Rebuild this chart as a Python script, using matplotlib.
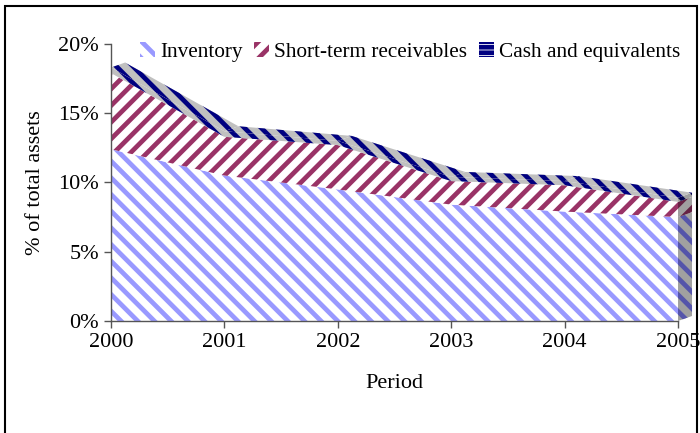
import numpy as np
import matplotlib.pyplot as plt
from matplotlib.patches import Patch, Rectangle, Polygon

plt.rcParams['font.family'] = ['Liberation Serif', 'DejaVu Serif']
plt.rcParams['hatch.linewidth'] = 3.4

# Data (% of total assets)
years = [2000, 2001, 2002, 2003, 2004, 2005]
inventory = [12.4, 10.5, 9.5, 8.4, 7.9, 7.5]
receivables = [5.5, 2.8, 3.2, 1.7, 1.9, 1.1]
cash = [0.4, 0.4, 0.3, 0.3, 0.3, 0.3]
labels = ['Inventory', 'Short-term receivables', 'Cash and equivalents']

colors = ['#9999FF', '#993366', '#000080']
side_colors = ['#5555AA', '#662244', '#000050']
faces = ['white', 'white', '#C0C0C0']
hatches = ['\\\\', '//', '\\\\']

fig = plt.figure(figsize=(7, 4.33), dpi=100)
ax = fig.add_axes([0.1586, 0.2587, 0.81, 0.6397])
ax.set_xlim(2000, 2005)
ax.set_ylim(0, 20)

x = np.array(years, dtype=float)
tops = np.cumsum([inventory, receivables, cash], axis=0)
bottoms = np.vstack([np.zeros(len(x)), tops[:-1]])

# 3D depth offset (pixels -> data units)
p0 = ax.transData.transform((2000, 0))
p1 = ax.transData.transform((2001, 1))
dx = 14 / (p1[0] - p0[0])
dy = 5 / (p1[1] - p0[1])

# right side faces at the last period
for k in range(3):
    lo, hi = bottoms[k][-1], tops[k][-1]
    ax.add_patch(Polygon([(x[-1], lo), (x[-1], hi), (x[-1] + dx, hi + dy), (x[-1] + dx, lo + dy)],
                         closed=True, facecolor='#A0A0A0', edgecolor=side_colors[k],
                         hatch=hatches[k], linewidth=0, clip_on=False, zorder=1))

# top face of the stack
t = tops[-1]
for i in range(len(x) - 1):
    ax.add_patch(Polygon([(x[i], t[i]), (x[i + 1], t[i + 1]),
                          (x[i + 1] + dx, t[i + 1] + dy), (x[i] + dx, t[i] + dy)],
                         closed=True, facecolor='#C0C0C0', edgecolor='#000080',
                         hatch='\\\\', linewidth=0, clip_on=False, zorder=1))

# front faces
for k in range(3):
    ax.fill_between(x, bottoms[k], tops[k], facecolor=faces[k], edgecolor=colors[k],
                    hatch=hatches[k], linewidth=0, zorder=2)

ax.set_xticks(years)
ax.set_yticks([0, 5, 10, 15, 20])
ax.set_yticklabels(['0%', '5%', '10%', '15%', '20%'])
ax.tick_params(labelsize=16, direction='out', length=5, width=1, color='#555555')
for s in ['top', 'right']:
    ax.spines[s].set_visible(False)
for s in ['left', 'bottom']:
    ax.spines[s].set_color('#555555')
    ax.spines[s].set_linewidth(1)
    ax.spines[s].set_zorder(3)

ax.set_xlabel('Period', fontsize=16, labelpad=16)
ax.set_ylabel('% of total assets', fontsize=16, labelpad=10)

handles = [
    Patch(facecolor='white', edgecolor=colors[0], hatch='\\\\', linewidth=0),
    Patch(facecolor='white', edgecolor=colors[1], hatch='//', linewidth=0),
    Patch(facecolor='white', edgecolor=colors[2], hatch='---', linewidth=0),
]
ax.legend(handles, labels, ncol=3, frameon=False, fontsize=15.3,
          loc='center left', bbox_to_anchor=(0.051, 0.971),
          handlelength=0.7, handleheight=0.7, handletextpad=0.25,
          columnspacing=0.55, borderaxespad=0, borderpad=0)

fig.patches.append(Rectangle((0.0075, -0.05), 0.988, 1.037, transform=fig.transFigure,
                             fill=False, edgecolor='black', linewidth=1.5))

fig.savefig('out.png', dpi=100)
